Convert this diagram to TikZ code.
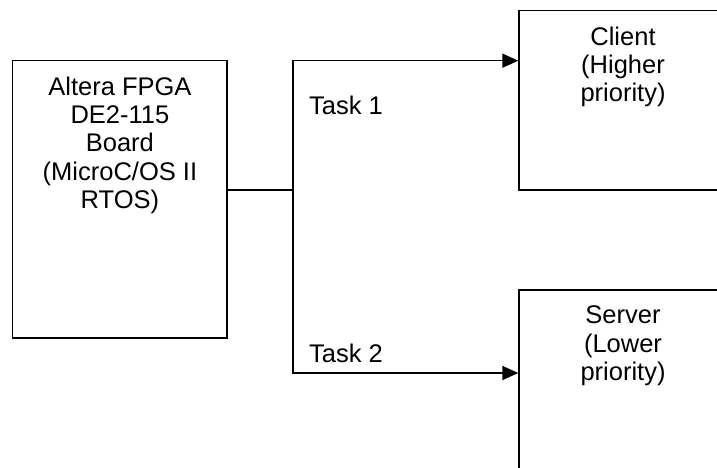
\documentclass[tikz,border=0pt]{standalone}
\usepackage{fontspec}
\setmainfont{Liberation Sans}
\usetikzlibrary{arrows.meta,positioning,calc}

\begin{document}
\begin{tikzpicture}[x=1pt, y=-1pt,
    blockbox/.style={draw, line width=1.4pt, inner sep=0pt},
    blocktext/.style={anchor=north, align=center, inner sep=0pt, font=\fontsize{25.5}{28.3}\selectfont},
    tasktext/.style={anchor=base west, inner sep=0pt, font=\fontsize{25.5}{28.3}\selectfont},
    wire/.style={line width=1.6pt},
    arr/.style={wire, -{Triangle[length=16pt, width=14pt]}}]
    \useasboundingbox (0,0) rectangle (717,468);

    % boxes
    \node[blockbox, minimum width=214.3pt, minimum height=277.3pt] (board) at (119.9,199.4) {};
    \node[blockbox, minimum width=208pt, minimum height=179.3pt] (client) at (623,100.4) {};
    \node[blockbox, minimum width=208pt, minimum height=182pt] (server) at (623,381) {};

    \node[blocktext, below=16.5pt of board.north] (boardtxt) {Altera FPGA\\DE2-115\\Board\\(MicroC/OS II\\RTOS)};
    \node[blocktext, below=16.5pt of client.north] (clienttxt) {Client\\(Higher\\priority)};
    \node[blocktext, below=16.5pt of server.north] (servertxt) {Server\\(Lower\\priority)};

    % connectors
    \coordinate (split) at (292.7,190);
    \draw[wire] (board.east |- split) -- (split);
    \draw[arr] (split) |- ([yshift=39.7pt]client.west);
    \draw[arr] (split) |- ([yshift=8pt]server.west);

    \node[tasktext] (task1) at (309,115) {Task 1};
    \node[tasktext] (task2) at (309,362) {Task 2};
\end{tikzpicture}
\end{document}
